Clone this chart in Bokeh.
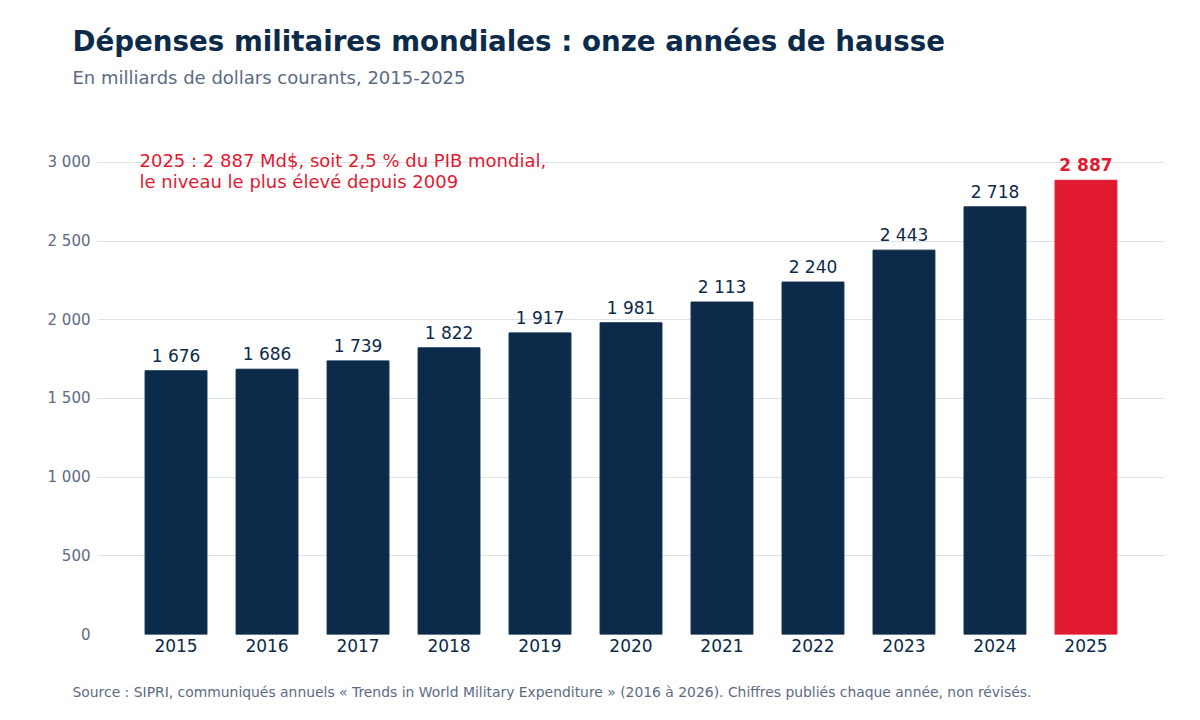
from bokeh.plotting import figure
from bokeh.models import ColumnDataSource, Label, FixedTicker, Title
from bokeh.core.properties import value
from bokeh.embed import file_html
from bokeh.resources import INLINE

# donnees SIPRI (milliards USD courants)
years = ["2015", "2016", "2017", "2018", "2019", "2020",
         "2021", "2022", "2023", "2024", "2025"]
spending = [1676, 1686, 1739, 1822, 1917, 1981, 2113, 2240, 2443, 2718, 2887]
y_ticks = [0, 500, 1000, 1500, 2000, 2500, 3000]

NAVY = "#0c2a4a"
RED = "#e11a30"
GREY = "#5b6b84"
FONT = "DejaVu Sans"


def fr(v):
    return f"{v:,}".replace(",", " ")


colors = [NAVY] * (len(years) - 1) + [RED]
src = ColumnDataSource(dict(year=years, val=spending, color=colors))

p = figure(x_range=years, y_range=(0, 3197), width=1196, height=716,
           title=None, output_backend="svg", toolbar_location=None, tools="",
           min_border_left=97, min_border_right=32,
           min_border_top=131, min_border_bottom=82)
p.x_range.range_padding = 0.066
p.outline_line_color = None

p.vbar(x="year", top="val", width=0.68, color="color", source=src)

# etiquettes de valeurs
src_reg = ColumnDataSource(dict(year=years[:-1], val=spending[:-1],
                                lab=[fr(v) for v in spending[:-1]]))
p.text(x="year", y="val", text="lab", source=src_reg, text_align="center",
       text_baseline="bottom", y_offset=-5, text_font=value(FONT),
       text_font_size="17px", text_color=NAVY)
src_last = ColumnDataSource(dict(year=years[-1:], val=spending[-1:],
                                 lab=[fr(spending[-1])]))
p.text(x="year", y="val", text="lab", source=src_last, text_align="center",
       text_baseline="bottom", y_offset=-5, text_font=value(FONT),
       text_font_size="17px", text_color=RED, text_font_style="bold")

# axes
p.yaxis.ticker = FixedTicker(ticks=y_ticks)
p.yaxis.major_label_overrides = {t: fr(t) for t in y_ticks}
p.yaxis.axis_line_color = None
p.yaxis.major_tick_line_color = None
p.yaxis.minor_tick_line_color = None
p.yaxis.major_label_text_font = FONT
p.yaxis.major_label_text_font_size = "15px"
p.yaxis.major_label_text_color = GREY
p.yaxis.major_label_standoff = 1

p.xaxis.axis_line_color = None
p.xaxis.major_tick_line_color = None
p.xaxis.major_label_text_font = FONT
p.xaxis.major_label_text_font_size = "17px"
p.xaxis.major_label_text_color = NAVY
p.xaxis.major_label_standoff = -2

p.xgrid.grid_line_color = None
p.ygrid.grid_line_color = "#dde1ea"
p.ygrid.grid_line_width = 1

# titres (empiles depuis le cadre vers le haut)
p.add_layout(Title(text=" ", text_font=FONT, text_font_size="14px",
                   standoff=20), "above")
p.add_layout(Title(text="En milliards de dollars courants, 2015-2025",
                   text_font=FONT, text_font_size="18px", text_font_style="normal",
                   text_color=GREY, align="left", offset=-25, standoff=11), "above")
p.add_layout(Title(text="Dépenses militaires mondiales : onze années de hausse",
                   text_font=FONT, text_font_size="27.7px", text_font_style="bold",
                   text_color=NAVY, align="left", offset=-25, standoff=4), "above")

# source
p.add_layout(Title(text=" ", text_font=FONT, text_font_size="14px",
                   standoff=8), "below")
p.add_layout(Title(text="Source : SIPRI, communiqués annuels « Trends in World Military "
                        "Expenditure » (2016 à 2026). Chiffres publiés chaque année, non révisés.",
                   text_font=FONT, text_font_size="13.9px", text_font_style="normal",
                   text_color=GREY, align="left", offset=-25, standoff=2), "below")

p.add_layout(Label(x=42, y=474, x_units="screen", y_units="screen",
                   text="2025 : 2 887 Md$, soit 2,5 % du PIB mondial,",
                   text_font=FONT, text_font_size="18px",
                   text_color=RED, text_baseline="middle"))
p.add_layout(Label(x=42, y=453, x_units="screen", y_units="screen",
                   text="le niveau le plus élevé depuis 2009",
                   text_font=FONT, text_font_size="18px",
                   text_color=RED, text_baseline="middle"))

open("out.html", "w").write(file_html(p, INLINE))
